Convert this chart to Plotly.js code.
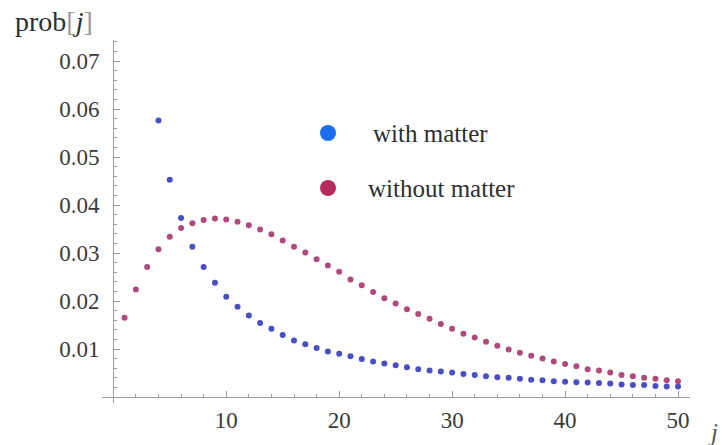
<!DOCTYPE html>
<html>
<head>
<meta charset="utf-8">
<script src="https://cdn.plot.ly/plotly-3.0.1.min.js"></script>
<style>
html,body{margin:0;padding:0;background:#fff;}
#chart{width:722px;height:445px;}
</style>
</head>
<body>
<div id="chart"></div>
<script>
// j index for each series
const jWith = [4,5,6,7,8,9,10,11,12,13,14,15,16,17,18,19,20,21,22,23,24,25,26,27,28,29,30,31,32,33,34,35,36,37,38,39,40,41,42,43,44,45,46,47,48,49,50];
const probWith = [0.0576,0.0453,0.0373,0.0313,0.0271,0.0238,0.0209,0.0188,0.0170,0.0154,
  0.0142,0.0129,0.0118,0.0110,0.0102,0.0095,0.0090,0.0085,0.0079,0.0074,
  0.0070,0.0066,0.0062,0.0058,0.0055,0.0053,0.0051,0.0048,0.0046,0.0043,
  0.0041,0.0040,0.0038,0.0036,0.0035,0.0033,0.0032,0.0031,0.0030,0.0029,
  0.0028,0.0026,0.0025,0.0025,0.0023,0.0022,0.0022];
const jWithout = [1,2,3,4,5,6,7,8,9,10,11,12,13,14,15,16,17,18,19,20,21,22,23,24,25,26,27,28,29,30,31,32,33,34,35,36,37,38,39,40,41,42,43,44,45,46,47,48,49,50];
const probWithout = [0.0165,0.0224,0.0271,0.0308,0.0334,0.0352,0.0362,0.0369,0.0372,0.0370,
  0.0365,0.0358,0.0349,0.0339,0.0326,0.0313,0.0301,0.0287,0.0274,0.0261,
  0.0245,0.0233,0.0219,0.0206,0.0195,0.0183,0.0173,0.0163,0.0152,0.0142,
  0.0132,0.0124,0.0115,0.0107,0.0099,0.0092,0.0086,0.0080,0.0074,0.0069,
  0.0064,0.0058,0.0055,0.0051,0.0046,0.0043,0.0040,0.0038,0.0035,0.0033];
const seriesNames = ["with matter", "without matter"];
const xTickVals = [10,20,30,40,50];
const xTickText = ["10","20","30","40","50"];
const yTickVals = [0.01,0.02,0.03,0.04,0.05,0.06,0.07];
const yTickText = ["0.01","0.02","0.03","0.04","0.05","0.06","0.07"];

const serif = "Liberation Serif";
const axisCol = "#9a9a9a";

const traces = [
  {x: jWith, y: probWith, mode: "markers", type: "scatter", name: seriesNames[0],
   marker: {size: 6, color: "#4a4ec4"}, hoverinfo: "x+y"},
  {x: jWithout, y: probWithout, mode: "markers", type: "scatter", name: seriesNames[1],
   marker: {size: 6, color: "#b04a7c"}, hoverinfo: "x+y"}
];

const layout = {
  width: 722, height: 445,
  font: {family: serif, size: 22, color: "#3a3a3a"},
  margin: {l: 102, r: 32, t: 40, b: 42},
  paper_bgcolor: "#fff", plot_bgcolor: "#fff",
  showlegend: false,
  xaxis: {
    range: [-1, 51.06], domain: [0, 1], anchor: "free", position: 0.0165,
    showline: true, linecolor: axisCol, linewidth: 1,
    showgrid: false, zeroline: false,
    tickmode: "array", tickvals: xTickVals, ticktext: xTickText,
    ticks: "inside", ticklen: 6, tickcolor: axisCol, tickwidth: 1,
    ticklabelstandoff: 2,
    tickfont: {family: serif, size: 23, color: "#3a3a3a"},
    minor: {tick0: 0, dtick: 2, ticks: "inside", ticklen: 3, tickcolor: axisCol, showgrid: false}
  },
  yaxis: {
    range: [-0.00125, 0.0744], domain: [0, 1], anchor: "free", position: 0.0187,
    showline: true, linecolor: axisCol, linewidth: 1,
    showgrid: false, zeroline: false,
    tickmode: "array", tickvals: yTickVals, ticktext: yTickText,
    ticks: "inside", ticklen: 6, tickcolor: axisCol, tickwidth: 1,
    ticklabelstandoff: 9,
    tickfont: {family: serif, size: 23, color: "#3a3a3a"},
    minor: {tick0: 0, dtick: 0.002, ticks: "inside", ticklen: 3, tickcolor: axisCol, showgrid: false}
  },
  shapes: [
    {type: "circle", xref: "paper", yref: "paper", xsizemode: "pixel", ysizemode: "pixel",
     xanchor: (328-102)/588, yanchor: (403-133)/363, x0: -8, x1: 8, y0: -8, y1: 8,
     fillcolor: "#1a6ff0", line: {width: 0}},
    {type: "circle", xref: "paper", yref: "paper", xsizemode: "pixel", ysizemode: "pixel",
     xanchor: (328-102)/588, yanchor: (403-188)/363, x0: -8, x1: 8, y0: -8, y1: 8,
     fillcolor: "#b52a5e", line: {width: 0}}
  ],
  annotations: [
    {xref: "paper", yref: "paper", x: (371-102)/588, y: (403-133)/363, xanchor: "left", yanchor: "middle",
     text: seriesNames[0], showarrow: false, font: {family: serif, size: 25, color: "#2e2e2e"}},
    {xref: "paper", yref: "paper", x: (366-102)/588, y: (403-188)/363, xanchor: "left", yanchor: "middle",
     text: seriesNames[1], showarrow: false, font: {family: serif, size: 25, color: "#2e2e2e"}},
    {xref: "paper", yref: "paper", x: (13-102)/588, y: (403-22)/363, xanchor: "left", yanchor: "middle",
     text: 'prob<span style="color:#9a9a9a">[</span><i>j</i><span style="color:#9a9a9a">]</span>',
     showarrow: false, font: {family: serif, size: 28, color: "#2e2e2e"}},
    {xref: "paper", yref: "paper", x: (720-102)/588, y: (403-432)/363, xanchor: "right", yanchor: "middle",
     text: '<i>j</i>', showarrow: false, font: {family: serif, size: 25, color: "#555"}}
  ]
};

Plotly.newPlot("chart", traces, layout, {displayModeBar: false, staticPlot: true});
</script>
</body>
</html>
